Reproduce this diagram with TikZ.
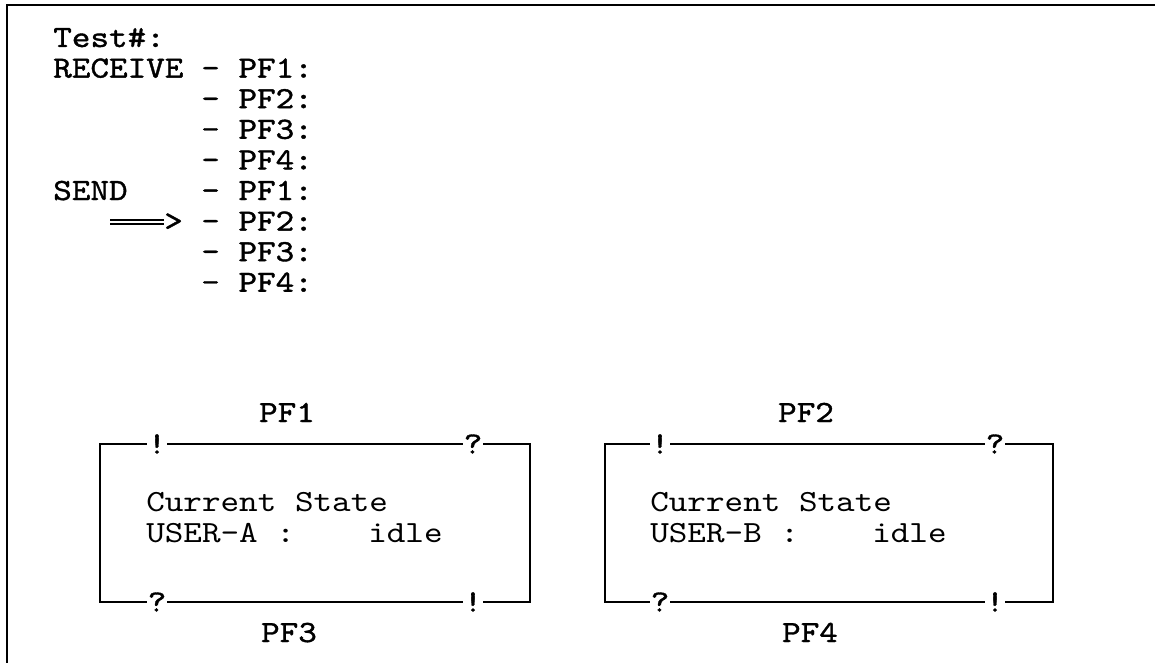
\documentclass[tikz,border=0pt]{standalone}
\usepackage{fontspec}
\newfontfamily\monofnt{lmmono10-regular}[Extension=.otf, FakeStretch=1.15]
\newfontfamily\monobold{lmmono10-regular}[Extension=.otf, FakeStretch=1.15, FakeBold=1.2]
\begin{document}
\begin{tikzpicture}[x=0.75pt,y=-0.75pt,
  txt/.style={font=\monofnt\fontsize{23.1}{30}\selectfont, inner sep=0pt, anchor=base west},
  btxt/.style={font=\monobold\fontsize{23.1}{30}\selectfont, inner sep=0pt, anchor=base west},
  lbl/.style={btxt, anchor=base},
  mk/.style={font=\monobold\fontsize{23.1}{30}\selectfont, fill=white, inner sep=0pt, minimum width=15pt, anchor=center},
  frameline/.style={line width=1.5pt},
  boxline/.style={line width=1.4pt},
  dblarrow/.style={double, double distance=1.9pt, line width=1.1pt}]
\useasboundingbox (0,0) rectangle (1156,663);
% outer frame (top and left only)
\coordinate (fbl) at (7,663);
\coordinate (ftl) at (7,5);
\coordinate (ftr) at (1155,5);
\draw[frameline] (fbl) -- (ftl) -- (ftr);
% upper text block
\node[btxt] (test) at (53,47) {Test\#:};
\node[btxt] (recv) at (53,77.6) {RECEIVE};
\node[btxt] (r1) at (201,77.6) {- PF1:};
\node[btxt] (r2) at (201,108.2) {- PF2:};
\node[btxt] (r3) at (201,138.8) {- PF3:};
\node[btxt] (r4) at (201,169.4) {- PF4:};
\node[btxt] (send) at (53,200) {SEND};
\node[btxt] (s1) at (201,200) {- PF1:};
\node[btxt] (gt) at (164,230.6) {>};
\node[btxt] (s2) at (201,230.6) {- PF2:};
\node[btxt] (s3) at (201,261.2) {- PF3:};
\node[btxt] (s4) at (201,291.8) {- PF4:};
\coordinate (arrstart) at (110,222);
\draw[dblarrow] (arrstart) -- (arrstart -| gt.west);
% box 1
\node[lbl] (pf1) at (287,422) {PF1};
\coordinate (b1tl) at (100,444);
\coordinate (b1br) at (530,602);
\draw[boxline] (b1tl) rectangle (b1br);
\node[mk] (b1t1) at (157,444) {!};
\node[mk] (b1t2) at (473,444) {?};
\node[mk] (b1b1) at (157,602) {?};
\node[mk] (b1b2) at (473,602) {!};
\node[txt] (cs1) at (146,511) {Current State};
\node[txt] (ua) at (146,542) {USER-A :};
\node[txt] (ia) at (368,542) {idle};
\node[lbl] (pf3) at (289,642) {PF3};
% box 2
\node[lbl] (pf2) at (806,422) {PF2};
\coordinate (b2tl) at (605,444);
\coordinate (b2br) at (1053,602);
\draw[boxline] (b2tl) rectangle (b2br);
\node[mk] (b2t1) at (660,444) {!};
\node[mk] (b2t2) at (995,444) {?};
\node[mk] (b2b1) at (660,602) {?};
\node[mk] (b2b2) at (995,602) {!};
\node[txt] (cs2) at (650,511) {Current State};
\node[txt] (ub) at (650,542) {USER-B :};
\node[txt] (ib) at (872,542) {idle};
\node[lbl] (pf4) at (810,642) {PF4};
\end{tikzpicture}
\end{document}
